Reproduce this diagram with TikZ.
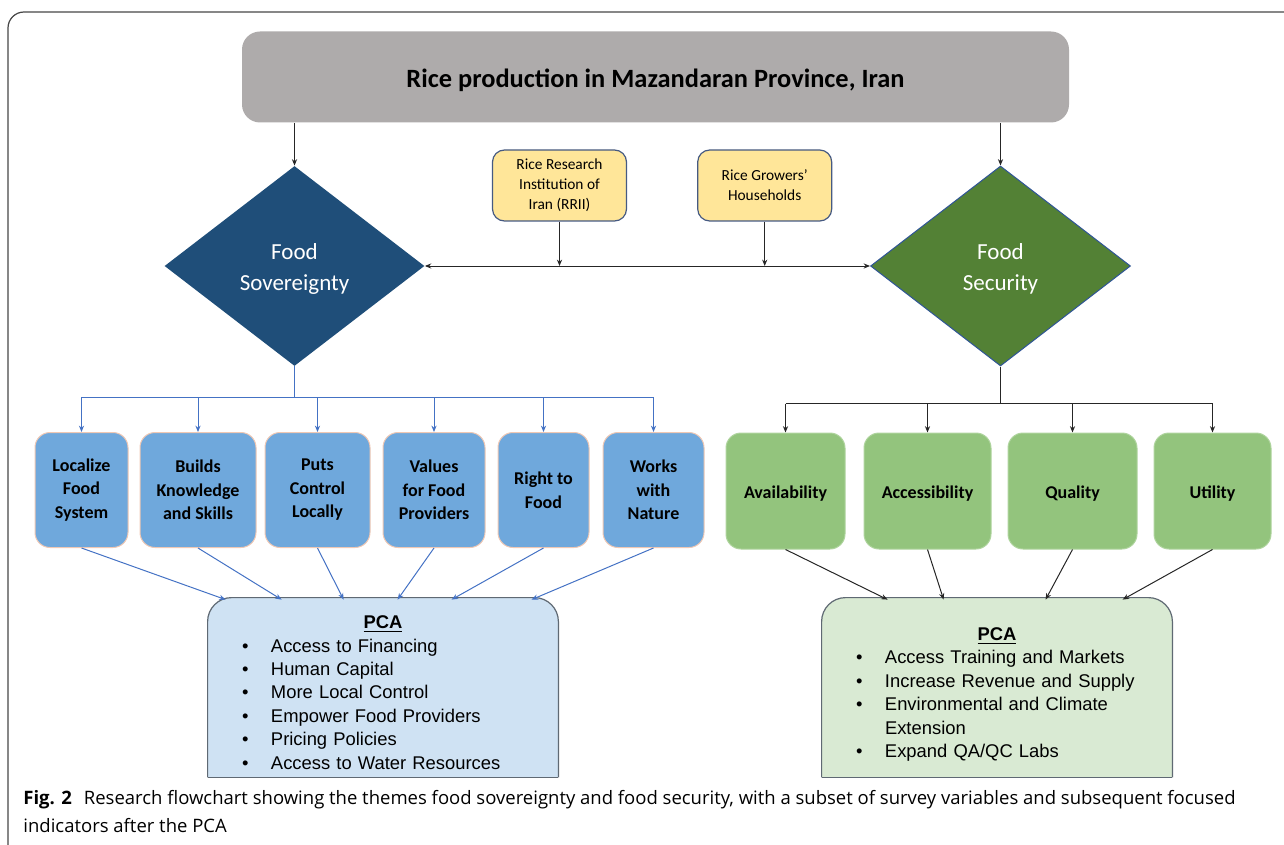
\documentclass[tikz,border=0pt]{standalone}
\usepackage{fontspec}
\setmainfont{Carlito}
\newfontfamily\arialfont{Liberation Sans}
\newfontfamily\capfont{Open Sans}
\usepackage{xcolor}
\usetikzlibrary{shapes.geometric, arrows.meta, positioning, calc, backgrounds}

\definecolor{titlegray}{RGB}{174,171,171}
\definecolor{sovblue}{RGB}{31,78,121}
\definecolor{secgreen}{RGB}{83,129,53}
\definecolor{secedge}{RGB}{47,85,151}
\definecolor{srcyellow}{RGB}{255,230,153}
\definecolor{srcedge}{RGB}{70,90,130}
\definecolor{sovfill}{RGB}{111,168,220}
\definecolor{sovedge}{RGB}{240,200,180}
\definecolor{secfill}{RGB}{147,196,125}
\definecolor{secboxedge}{RGB}{175,212,158}
\definecolor{sovpca}{RGB}{207,226,243}
\definecolor{secpca}{RGB}{217,234,211}
\definecolor{pcaedge}{RGB}{95,105,115}
\definecolor{sovline}{RGB}{68,114,196}
\definecolor{framegray}{RGB}{70,70,70}

\newcommand{\pcaitem}[1]{\makebox[14.5pt][l]{\textbullet}#1}
\newcommand{\pcahead}[1]{\makebox[\linewidth]{\rule{0pt}{#1}\bfseries\underline{PCA}}}
\newcommand{\dropline}[1]{\raisebox{-1.5pt}[\height][\depth]{#1}}

\begin{document}
\begin{tikzpicture}[
  x=0.5pt, y=-0.5pt,
  >={Stealth[length=3.2pt,width=2.6pt]},
  header/.style={
    rectangle, rounded corners=9pt, fill=titlegray,
    minimum width=413.5pt, minimum height=45.5pt,
    font=\bfseries\fontsize{13.2}{15}\selectfont
  },
  theme/.style={
    diamond, minimum width=130pt, minimum height=100pt, inner sep=0pt,
    text=white, align=center, font=\fontsize{11.5}{15.5}\selectfont
  },
  source/.style={
    rectangle, rounded corners=6pt, draw=srcedge, line width=0.6pt,
    fill=srcyellow, minimum width=67pt, minimum height=35.5pt,
    align=center, font=\fontsize{7.7}{10}\selectfont
  },
  sovbox/.style={
    rectangle, rounded corners=7.5pt, draw=sovedge, line width=0.5pt,
    fill=sovfill, minimum height=57.5pt, inner sep=1pt,
    align=center, font=\bfseries\fontsize{9}{11.75}\selectfont
  },
  secbox/.style={
    rectangle, rounded corners=7.5pt, draw=secboxedge, line width=0.5pt,
    fill=secfill, minimum height=58pt, inner sep=1pt,
    align=center, font=\bfseries\fontsize{9}{11.75}\selectfont
  },
  pca/.style={
    rectangle, minimum height=89.5pt, inner xsep=17pt, inner ysep=2pt,
    text width=141pt, align=left,
    font=\arialfont\fontsize{9.2}{11.7}\selectfont
  },
  pcashape/.style={draw=pcaedge, line width=0.6pt, rounded corners=12pt},
  plain/.style={line width=0.5pt, color=black!85},
  blackarrow/.style={->, line width=0.5pt, color=black!85},
  bluearrow/.style={->, line width=0.5pt, color=sovline}
]
\useasboundingbox (0,0) rectangle (1284,845);

% Frame
\draw[framegray, line width=0.6pt, rounded corners=8pt] (8,845) -- (8,12) -- (1284,12);

% Title and themes
\node[header] (title) at (655.5,77) {\dropline{Rice production in Mazandaran Province, Iran}};
\node[theme, fill=sovblue] (fsov) at (294.5,266) {\dropline{Food}\\\dropline{Sovereignty}};
\node[theme, fill=secgreen, draw=secedge, line width=0.5pt] (fsec) at (1000.5,266) {\dropline{Food}\\\dropline{Security}};

% Data sources
\node[source] (rrii) at (559.5,185.5) {Rice Research\\Institution of\\Iran (RRII)};
\node[source, right=35pt of rrii] (hh) {Rice Growers'\\Households};

% Food sovereignty variables
\node[sovbox, minimum width=46.5pt] (loc) at (81.5,490) {Localize\\Food\\System};
\node[sovbox, minimum width=58pt, right=5.5pt of loc] (know) {Builds\\Knowledge\\and Skills};
\node[sovbox, minimum width=52.5pt, right=4pt of know] (ctrl) {Puts\\Control\\Locally};
\node[sovbox, minimum width=51pt, right=6pt of ctrl] (prov) {Values\\for Food\\Providers};
\node[sovbox, minimum width=45.5pt, right=6pt of prov] (rtf) {Right to\\Food};
\node[sovbox, minimum width=50.5pt, right=6.5pt of rtf] (nat) {Works\\with\\Nature};

% Food security variables
\node[secbox, minimum width=59.5pt] (avail) at (785.5,491) {\dropline{Availability}};
\node[secbox, minimum width=63.5pt, right=9pt of avail] (access) {\dropline{Accessibility}};
\node[secbox, minimum width=64.5pt, right=8pt of access] (qual) {\dropline{Quality}};
\node[secbox, minimum width=58.5pt, right=8pt of qual] (util) {\dropline{Utility}};

% PCA results
\node[pca] (lpca) at (383,687.5) {%
  \pcahead{11.5pt}\\
  \pcaitem{Access to Financing}\\
  \pcaitem{Human Capital}\\
  \pcaitem{More Local Control}\\
  \pcaitem{Empower Food Providers}\\
  \pcaitem{Pricing Policies}\\
  \pcaitem{Access to Water Resources}};
\node[pca] (rpca) at (997,687.5) {%
  \pcahead{13.5pt}\\
  \pcaitem{Access Training and Markets}\\
  \pcaitem{Increase Revenue and Supply}\\
  \pcaitem{Environmental and Climate}\\
  \hspace*{14.5pt}Extension\\
  \pcaitem{Expand QA/QC Labs}};

\begin{scope}[on background layer]
  \draw[pcashape, fill=sovpca] (lpca.south west) -- (lpca.north west) -- (lpca.north east) -- (lpca.south east);
  \draw[pcaedge, line width=0.6pt] (lpca.south west) -- (lpca.south east);
  \draw[pcashape, fill=secpca] (rpca.south west) -- (rpca.north west) -- (rpca.north east) -- (rpca.south east);
  \draw[pcaedge, line width=0.6pt] (rpca.south west) -- (rpca.south east);
\end{scope}

% Arrows from the title
\draw[blackarrow] (title.south -| fsov.north) -- (fsov.north);
\draw[blackarrow] (title.south -| fsec.north) -- (fsec.north);

% Link between the themes
\draw[blackarrow, <->] (fsov.east) -- (fsec.west);
\draw[blackarrow] (rrii.south) -- (rrii.south |- fsov.east);
\draw[blackarrow] (hh.south) -- (hh.south |- fsov.east);

% Branches to the variables
\coordinate (lbus) at ($(fsov.south)+(0,31)$);
\coordinate (rbus) at ($(fsec.south)+(0,37)$);
\draw[sovline, line width=0.5pt] (fsov.south) -- (lbus);
\draw[sovline, line width=0.5pt] (loc.north |- lbus) -- (nat.north |- lbus);
\foreach \n in {loc,know,ctrl,prov,rtf,nat}
  \draw[bluearrow] (\n.north |- lbus) -- (\n.north);
\draw[plain] (fsec.south) -- (rbus);
\draw[plain] (avail.north |- rbus) -- (util.north |- rbus);
\foreach \n in {avail,access,qual,util}
  \draw[blackarrow] (\n.north |- rbus) -- (\n.north);

% Variables into PCA
\foreach \n/\dx in {loc/18, know/74, ctrl/136, prov/190, rtf/244, nat/324}
  \draw[bluearrow] (\n.south) -- ($(lpca.north west)+(\dx,2)$);
\foreach \n/\dx in {avail/66, access/122, qual/224, util/301}
  \draw[blackarrow] (\n.south) -- ($(rpca.north west)+(\dx,2)$);

% Caption
\node[anchor=north west, align=left, inner sep=0pt,
  font=\capfont\fontsize{9.25}{14}\selectfont] (cap) at (23,790)
  {\textbf{Fig. 2}\hspace{6pt}Research flowchart showing the themes food sovereignty and food security, with a subset of survey variables and subsequent focused\\indicators after the PCA};

\end{tikzpicture}
\end{document}
